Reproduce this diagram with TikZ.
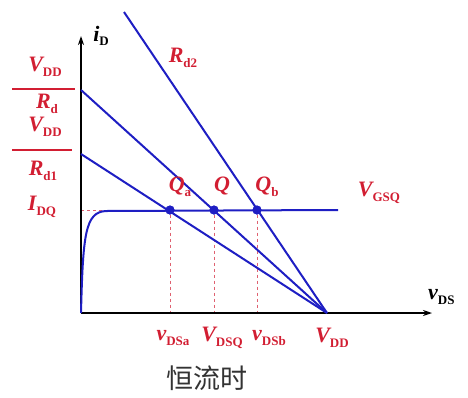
\documentclass[tikz,border=0pt]{standalone}
\usepackage{fontspec}
\setmainfont{Liberation Serif}
\newfontfamily\cjk{Noto Sans CJK SC}
\usetikzlibrary{arrows.meta}
\definecolor{labred}{RGB}{210,30,50}
\definecolor{lineblue}{RGB}{30,30,195}
\newcommand{\mylab}[2]{{\bfseries\itshape #1}\raisebox{-0.45ex}{\fontsize{13}{13}\selectfont\bfseries #2}}
\tikzset{
  lab/.style={text=labred, font=\fontsize{22}{22}\selectfont, inner sep=0pt},
  bl/.style={draw=lineblue, line width=2pt},
  dsh/.style={draw=labred!70, dashed, line width=0.6pt},
  qdot/.style={circle, fill=lineblue, minimum size=9pt, inner sep=0pt},
  ax/.style={draw=black, line width=1.3pt, -{Stealth[length=9pt,width=6pt]}}
}
\begin{document}
\begin{tikzpicture}[x=1pt,y=-1pt]
\useasboundingbox (0,0) rectangle (468,397);
% key coordinates
\coordinate (O) at (81,313);
\coordinate (Vdd) at (327,313);
\coordinate (yRd) at (81,90);
\coordinate (yRd1) at (81,154);
\coordinate (Rd2top) at (124,12);
\coordinate (yI) at (81,210);
\coordinate (flatEnd) at (338,210);
\coordinate (xa) at (170,313);
\coordinate (xq) at (214,313);
\coordinate (xb) at (257,313);
\coordinate (yTop) at (81,36);
\coordinate (xEnd) at (432,313);
% dashed guides
\node[qdot] (Qa) at (170,210) {};
\node[qdot] (Q) at (214,210) {};
\node[qdot] (Qb) at (257,210) {};
\draw[dsh] (Qa) -- (xa);
\draw[dsh] (Q) -- (xq);
\draw[dsh] (Qb) -- (xb);
\draw[dsh] (yI) -- (Qa);
% axes
\draw[ax] (O) -- (yTop);
\draw[ax] (O) -- (xEnd);
% load lines
\draw[bl] (Rd2top) -- (Vdd);
\draw[bl] (yRd) -- (Vdd);
\draw[bl] (yRd1) -- (Vdd);
% output characteristic
\draw[bl] (O) .. controls (83,235) and (85,212) .. (106,211) -- (flatEnd);
\node[qdot] at (Qa) {};
\node[qdot] at (Q) {};
\node[qdot] at (Qb) {};
% labels
\node[lab] (lVdd1) at (45,67) {\mylab{V}{DD}};
\draw[labred, line width=1.2pt] (12,89) -- (75,89);
\node[lab] (lRd) at (47,104) {\mylab{R}{d}};
\node[lab] (lVdd2) at (45,127) {\mylab{V}{DD}};
\draw[labred, line width=1.2pt] (12,150) -- (72,150);
\node[lab] (lRd1) at (43,171) {\mylab{R}{d1}};
\node[lab] (lIdq) at (42,207) {\mylab{I}{DQ}};
\node[lab] (lRd2) at (183,58) {\mylab{R}{d2}};
\node[lab] (lQa) at (180,187) {\mylab{Q}{a}};
\node[lab] (lQ) at (222,186) {\mylab{Q}{}};
\node[lab] (lQb) at (267,187) {\mylab{Q}{b}};
\node[lab] (lVgsq) at (379,193) {\mylab{V}{GSQ}};
\node[font=\fontsize{22}{22}\selectfont, inner sep=0pt] (liD) at (101,36) {\mylab{i}{D}};
\node[font=\fontsize{22}{22}\selectfont, inner sep=0pt, anchor=west] (lvDS) at (428,297) {\mylab{v}{DS}};
\node[lab] (lvDSa) at (173,338) {\mylab{v}{DSa}};
\node[lab] (lVDSQ) at (222,338) {\mylab{V}{DSQ}};
\node[lab] (lvDSb) at (269,338) {\mylab{v}{DSb}};
\node[lab] (lVdd3) at (332,338) {\mylab{V}{DD}};
\node[font=\cjk\fontsize{27}{27}\selectfont, text=black!80, inner sep=0pt] (cap) at (207,378) {恒流时};
\end{tikzpicture}
\end{document}
